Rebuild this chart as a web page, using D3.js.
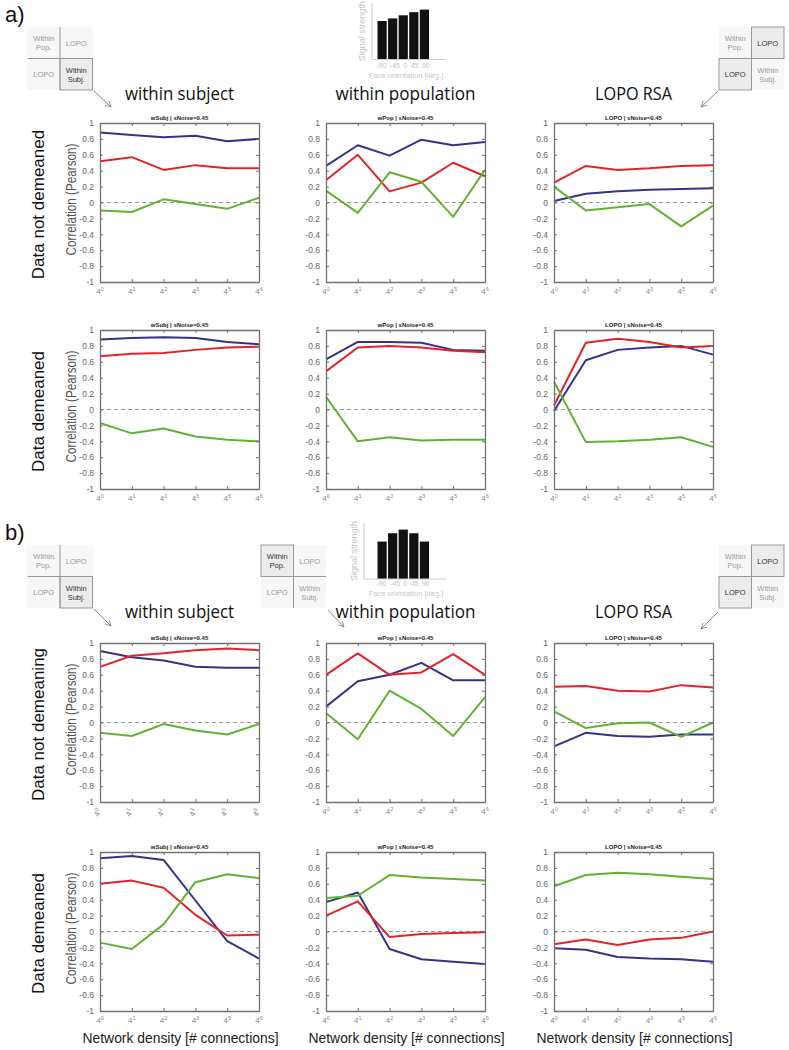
<!DOCTYPE html>
<html><head><meta charset="utf-8">
<script src="https://cdn.jsdelivr.net/npm/d3@7"></script>
<style>body{margin:0;background:#fff}svg{display:block}</style>
</head><body><svg id="c" width="789" height="1050"></svg>
<script>
// ---------- data ----------
const exps = ["0","1","2","3","5","6"];           // x tick exponents (4^k)
const yTickVals = [1,0.8,0.6,0.4,0.2,0,-0.2,-0.4,-0.6,-0.8,-1];
const colTitles = ["within subject","within population","LOPO RSA"];
const panelTitles = ["wSubj | sNoise=0.45","wPop | sNoise=0.45","LOPO | sNoise=0.45"];
const rowLabels = ["Data not demeaned","Data demeaned","Data not demeaning","Data demeaned"];
const barLabels = ["-90","-45","0","45","90"];
const barsA = [0.74,0.79,0.85,0.91,0.96];
const barsB = [0.72,0.88,0.95,0.88,0.72];

// a) data not demeaned
const aNd_wSubj_blue  = [0.88,0.85,0.82,0.84,0.77,0.80];
const aNd_wSubj_red   = [0.52,0.57,0.41,0.47,0.43,0.43];
const aNd_wSubj_green = [-0.10,-0.12,0.04,-0.02,-0.08,0.06];
const aNd_wPop_blue   = [0.46,0.72,0.59,0.79,0.72,0.76];
const aNd_wPop_red    = [0.28,0.60,0.14,0.25,0.50,0.33];
const aNd_wPop_green  = [0.15,-0.13,0.38,0.26,-0.18,0.41];
const aNd_lopo_blue   = [0.02,0.11,0.14,0.16,0.17,0.18];
const aNd_lopo_red    = [0.25,0.46,0.41,0.43,0.46,0.47];
const aNd_lopo_green  = [0.20,-0.10,-0.06,-0.02,-0.30,-0.04];
// a) data demeaned
const aD_wSubj_blue  = [0.88,0.90,0.91,0.90,0.85,0.82];
const aD_wSubj_red   = [0.67,0.70,0.71,0.75,0.78,0.79];
const aD_wSubj_green = [-0.17,-0.30,-0.24,-0.34,-0.38,-0.40];
const aD_wPop_blue   = [0.63,0.85,0.85,0.84,0.75,0.74];
const aD_wPop_red    = [0.48,0.78,0.80,0.78,0.74,0.72];
const aD_wPop_green  = [0.16,-0.40,-0.35,-0.39,-0.38,-0.38];
const aD_lopo_blue   = [-0.02,0.62,0.75,0.78,0.80,0.69];
const aD_lopo_red    = [0.05,0.84,0.89,0.85,0.78,0.80];
const aD_lopo_green  = [0.35,-0.41,-0.40,-0.38,-0.35,-0.47];
// b) data not demeaning
const bNd_wSubj_blue  = [0.90,0.82,0.78,0.70,0.69,0.69];
const bNd_wSubj_red   = [0.70,0.84,0.87,0.91,0.93,0.91];
const bNd_wSubj_green = [-0.13,-0.17,-0.02,-0.10,-0.15,-0.02];
const bNd_wPop_blue   = [0.20,0.52,0.60,0.75,0.53,0.53];
const bNd_wPop_red    = [0.60,0.87,0.60,0.63,0.86,0.60];
const bNd_wPop_green  = [0.12,-0.21,0.40,0.17,-0.17,0.32];
const bNd_lopo_blue   = [-0.30,-0.13,-0.17,-0.18,-0.15,-0.15];
const bNd_lopo_red    = [0.45,0.46,0.40,0.39,0.47,0.44];
const bNd_lopo_green  = [0.14,-0.07,-0.01,0.00,-0.18,0.00];
// b) data demeaned
const bD_wSubj_blue  = [0.92,0.95,0.90,0.39,-0.12,-0.34];
const bD_wSubj_red   = [0.60,0.64,0.55,0.21,-0.05,-0.04];
const bD_wSubj_green = [-0.14,-0.22,0.09,0.62,0.72,0.67];
const bD_wPop_blue   = [0.37,0.49,-0.22,-0.35,-0.38,-0.41];
const bD_wPop_red    = [0.20,0.38,-0.07,-0.03,-0.02,-0.01];
const bD_wPop_green  = [0.42,0.45,0.71,0.68,0.66,0.64];
const bD_lopo_blue   = [-0.21,-0.23,-0.32,-0.34,-0.35,-0.38];
const bD_lopo_red    = [-0.16,-0.10,-0.17,-0.10,-0.08,0.00];
const bD_lopo_green  = [0.57,0.71,0.74,0.72,0.69,0.66];

const grid = [
  [[aNd_wSubj_blue,aNd_wSubj_red,aNd_wSubj_green],[aNd_wPop_blue,aNd_wPop_red,aNd_wPop_green],[aNd_lopo_blue,aNd_lopo_red,aNd_lopo_green]],
  [[aD_wSubj_blue,aD_wSubj_red,aD_wSubj_green],[aD_wPop_blue,aD_wPop_red,aD_wPop_green],[aD_lopo_blue,aD_lopo_red,aD_lopo_green]],
  [[bNd_wSubj_blue,bNd_wSubj_red,bNd_wSubj_green],[bNd_wPop_blue,bNd_wPop_red,bNd_wPop_green],[bNd_lopo_blue,bNd_lopo_red,bNd_lopo_green]],
  [[bD_wSubj_blue,bD_wSubj_red,bD_wSubj_green],[bD_wPop_blue,bD_wPop_red,bD_wPop_green],[bD_lopo_blue,bD_lopo_red,bD_lopo_green]]
];
const seriesColors = ["#33338c","#e52228","#62b232"];

// ---------- layout ----------
const svg = d3.select("#c");
const colX = [100, 326, 554];
const rowY = [123, 330, 643, 852];
const W = 159, H = 159;
const FONT = "'Liberation Sans', Arial, sans-serif";

svg.append("defs").append("marker").attr("id","arr").attr("viewBox","0 0 10 10")
  .attr("refX",9).attr("refY",5).attr("markerWidth",7).attr("markerHeight",7).attr("orient","auto")
  .append("path").attr("d","M1,1 L9,5 L1,9").attr("fill","none").attr("stroke","#888").attr("stroke-width",1.2);

const fmt = v => String(+v.toFixed(1));

function panel(r, c) {
  const x0 = colX[c], y0 = rowY[r];
  const g = svg.append("g");
  const x = d3.scalePoint().domain(exps).range([x0, x0 + W]);
  const y = d3.scaleLinear().domain([-1, 1]).range([y0 + H, y0]);

  g.append("line").attr("x1", x0).attr("x2", x0 + W).attr("y1", y(0)).attr("y2", y(0))
    .attr("stroke", "#9a9a9a").attr("stroke-width", 1).attr("stroke-dasharray", "4,3");

  const line = d3.line().x((d, i) => x(exps[i])).y(d => y(d));
  grid[r][c].forEach((s, k) => {
    g.append("path").datum(s).attr("d", line).attr("fill", "none")
      .attr("stroke", seriesColors[k]).attr("stroke-width", 2).attr("stroke-linejoin", "round");
  });

  const style = sel => {
    sel.select(".domain").attr("stroke", "#707070").attr("stroke-width", 1.3);
    sel.selectAll(".tick line").attr("stroke", "#707070");
    sel.selectAll("text").attr("fill", "#666").attr("font-size", 8.5).attr("font-family", FONT);
  };
  g.append("g").attr("transform", `translate(${x0},0)`)
    .call(d3.axisLeft(y).tickValues(yTickVals).tickSize(-3).tickSizeOuter(0).tickPadding(6).tickFormat(fmt)).call(style);
  g.append("g").attr("transform", `translate(${x0 + W},0)`)
    .call(d3.axisRight(y).tickValues(yTickVals).tickSize(-3).tickSizeOuter(0).tickFormat("")).call(style);
  g.append("g").attr("transform", `translate(0,${y0})`)
    .call(d3.axisTop(x).tickSize(-3).tickSizeOuter(0).tickFormat("")).call(style);
  g.append("g").attr("transform", `translate(0,${y0 + H})`)
    .call(d3.axisBottom(x).tickSize(-3).tickSizeOuter(0).tickFormat("")).call(style);

  const rot = (r === 2 && c === 0);
  exps.forEach(e => {
    const tx = x(e), ty = y0 + H + 12;
    const t = g.append("text").attr("transform", `translate(${tx},${ty})` + (rot ? " rotate(-60)" : ""))
      .attr("text-anchor", "middle").attr("font-family", FONT).attr("font-size", 8)
      .attr("fill", "#8a8a8a");
    t.append("tspan").text("4");
    t.append("tspan").attr("font-size", 5.5).attr("dy", -3.5).text(e);
  });

  g.append("text").attr("x", x0 + W / 2).attr("y", y0 - 3).attr("text-anchor", "middle")
    .attr("font-family", FONT).attr("font-size", 6).attr("font-weight", "bold").attr("fill", "#222")
    .text(panelTitles[c]);

  if (c === 0) {
    g.append("text").attr("transform", `translate(76,${y0 + H / 2 - 3}) rotate(-90)`)
      .attr("text-anchor", "middle").attr("font-family", FONT).attr("font-size", 14)
      .attr("fill", "#555").attr("textLength", 112).attr("lengthAdjust", "spacingAndGlyphs")
      .text("Correlation (Pearson)");
    g.append("text").attr("transform", `translate(44,${y0 + H / 2 + 2}) rotate(-90)`)
      .attr("text-anchor", "middle").attr("font-family", FONT).attr("font-size", 17)
      .attr("fill", "#111").text(rowLabels[r]);
  }
  if (r === 3) {
    g.append("text").attr("x", x0 + W / 2 + 1).attr("y", 1043).attr("text-anchor", "middle")
      .attr("font-family", FONT).attr("font-size", 15).attr("fill", "#222")
      .attr("textLength", 196).attr("lengthAdjust", "spacingAndGlyphs")
      .text("Network density [# connections]");
  }
}
for (let r = 0; r < 4; r++) for (let c = 0; c < 3; c++) panel(r, c);

// column titles
const titleW = [109, 140, 77];
[100, 618].forEach(by => {
  colTitles.forEach((t, c) => {
    svg.append("text").attr("x", colX[c] + W / 2).attr("y", by).attr("text-anchor", "middle")
      .attr("font-family", "'Open Sans', sans-serif").attr("font-size", 19).attr("fill", "#111")
      .attr("textLength", titleW[c]).attr("lengthAdjust", "spacingAndGlyphs").text(t);
  });
});

// section letters
svg.append("text").attr("x", 5).attr("y", 22).attr("font-family", FONT).attr("font-size", 22).attr("fill", "#111").text("a)");
svg.append("text").attr("x", 5).attr("y", 540).attr("font-family", FONT).attr("font-size", 22).attr("fill", "#111").text("b)");

// matrix icons
const cellText = [["Within","Pop."],["LOPO"],["LOPO"],["Within","Subj."]];
function icon(x0, y0, hl, arrow) {
  const cw = 32.5, ch = 31.5;
  const g = svg.append("g");
  g.append("rect").attr("x", x0).attr("y", y0).attr("width", 2 * cw).attr("height", 2 * ch).attr("fill", "#f7f7f7");
  hl.forEach(i => {
    g.append("rect").attr("x", x0 + (i % 2) * cw).attr("y", y0 + Math.floor(i / 2) * ch)
      .attr("width", cw).attr("height", ch).attr("fill", "#ececec").attr("stroke", "#999").attr("stroke-width", 1);
  });
  g.append("line").attr("x1", x0 + cw).attr("x2", x0 + cw).attr("y1", y0).attr("y2", y0 + 2 * ch).attr("stroke", "#999");
  g.append("line").attr("x1", x0).attr("x2", x0 + 2 * cw).attr("y1", y0 + ch).attr("y2", y0 + ch).attr("stroke", "#999");
  cellText.forEach((lines, i) => {
    const cx = x0 + (i % 2) * cw + cw / 2, cy = y0 + Math.floor(i / 2) * ch + ch / 2;
    const dark = hl.includes(i);
    lines.forEach((l, j) => {
      g.append("text").attr("x", cx).attr("y", cy + 3 + (j - (lines.length - 1) / 2) * 9)
        .attr("text-anchor", "middle").attr("font-family", FONT).attr("font-size", 7.5)
        .attr("fill", dark ? "#333" : "#999").text(l);
    });
  });
  g.append("line").attr("x1", arrow[0]).attr("y1", arrow[1]).attr("x2", arrow[2]).attr("y2", arrow[3])
    .attr("stroke", "#888").attr("stroke-width", 1).attr("marker-end", "url(#arr)");
}
icon(27.5, 27, [3], [94, 91, 111, 107]);
icon(719, 27, [1, 2], [718, 91, 701, 107]);
icon(27.5, 545, [3], [94, 609, 111, 626]);
icon(261, 545, [0], [328, 610, 344, 627]);
icon(719, 545, [1, 2], [718, 612, 701, 629]);

// signal strength bar charts
function bars(vals, axX, base, top, endX, labY) {
  const g = svg.append("g");
  const x = d3.scaleBand().domain(barLabels).range([377.5, 429]).paddingInner(0.13);
  const y = d3.scaleLinear().domain([0, 1]).range([base, base - 52]);
  g.selectAll("rect").data(vals).join("rect")
    .attr("x", (d, i) => x(barLabels[i])).attr("width", x.bandwidth())
    .attr("y", d => y(d)).attr("height", d => base - y(d)).attr("fill", "#111");
  g.append("line").attr("x1", axX).attr("x2", axX).attr("y1", top).attr("y2", base).attr("stroke", "#ccc");
  g.append("line").attr("x1", axX).attr("x2", endX).attr("y1", base).attr("y2", base).attr("stroke", "#ccc");
  g.append("text").attr("x", 403).attr("y", labY).attr("text-anchor", "middle")
    .attr("font-family", FONT).attr("font-size", 7).attr("fill", "#c4c4c4")
    .attr("word-spacing", 1.5).text(barLabels.join(" "));
  g.append("text").attr("x", 406).attr("y", labY + 10).attr("text-anchor", "middle")
    .attr("font-family", FONT).attr("font-size", 7.5).attr("fill", "#c8c8c8").text("Face orientation [deg.]");
  g.append("text").attr("transform", `translate(${axX - 7},${(top + base) / 2}) rotate(-90)`)
    .attr("text-anchor", "middle").attr("font-family", FONT).attr("font-size", 9).attr("fill", "#c8c8c8")
    .text("Signal strength");
}
bars(barsA, 372, 59.5, 3, 445, 67.5);
bars(barsB, 364, 579, 523, 447, 586);
</script></body></html>
